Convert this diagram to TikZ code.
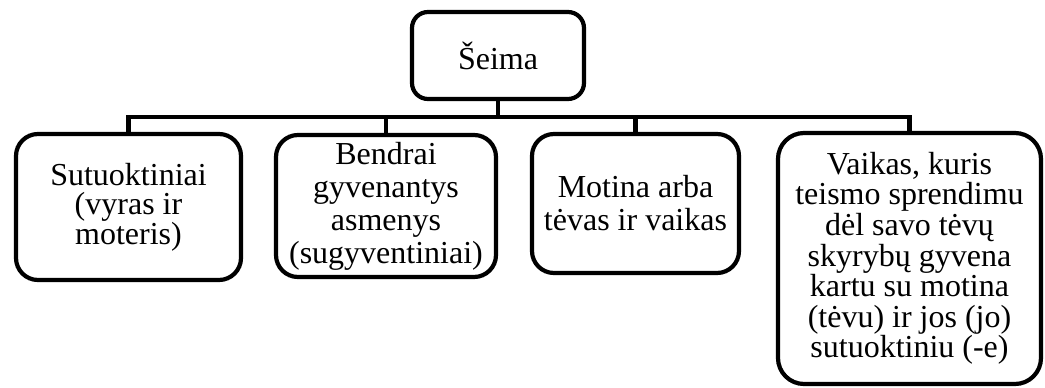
\documentclass[tikz,border=0pt]{standalone}
\usepackage{fontspec}
\setmainfont{Liberation Serif}
\begin{document}
\begin{tikzpicture}[x=1pt,y=-1pt,
  famroot/.style={draw=black, line width=4.2pt, rounded corners=#1, rectangle,
    outer sep=0pt, inner sep=0pt, align=center,
    font=\fontsize{32}{33}\selectfont},
  famroot/.default=18pt,
  link/.style={draw=black, line width=4.2pt, line join=miter}]
  \useasboundingbox (0,0) rectangle (1045,388);
  % root and the four family forms
  \node[famroot=16pt, minimum width=172pt, minimum height=87pt] (top) at (498,55.5) {Šeima};
  \node[famroot=22pt, minimum width=225pt, minimum height=146pt,
    font=\fontsize{32}{29}\selectfont] (b1) at (128.5,207)
    {Sutuoktiniai\\(vyras ir\\moteris)};
  \node[famroot=22pt, minimum width=220pt, minimum height=142pt] (b2) at (386,206)
    {Bendrai\\gyvenantys\\asmenys\\(sugyventiniai)};
  \node[famroot=22pt, minimum width=207pt, minimum height=139pt] (b3) at (635.5,203.5)
    {Motina arba\\tėvas ir vaikas};
  \node[famroot=26pt, minimum width=263pt, minimum height=251pt,
    font=\fontsize{32}{30.6}\selectfont] (b4) at (909.5,258.5)
    {Vaikas, kuris\\teismo sprendimu\\dėl savo tėvų\\skyrybų gyvena\\kartu su motina\\(tėvu) ir jos (jo)\\sutuoktiniu (-e)};
  % connectors
  \coordinate (bar) at (0,117);
  \draw[link] (top.south) -- (top.south |- bar);
  \draw[link] (b1.north) -- (b1.north |- bar) -- (b4.north |- bar) -- (b4.north);
  \draw[link] (b2.north) -- (b2.north |- bar);
  \draw[link] (b3.north) -- (b3.north |- bar);
\end{tikzpicture}
\end{document}
